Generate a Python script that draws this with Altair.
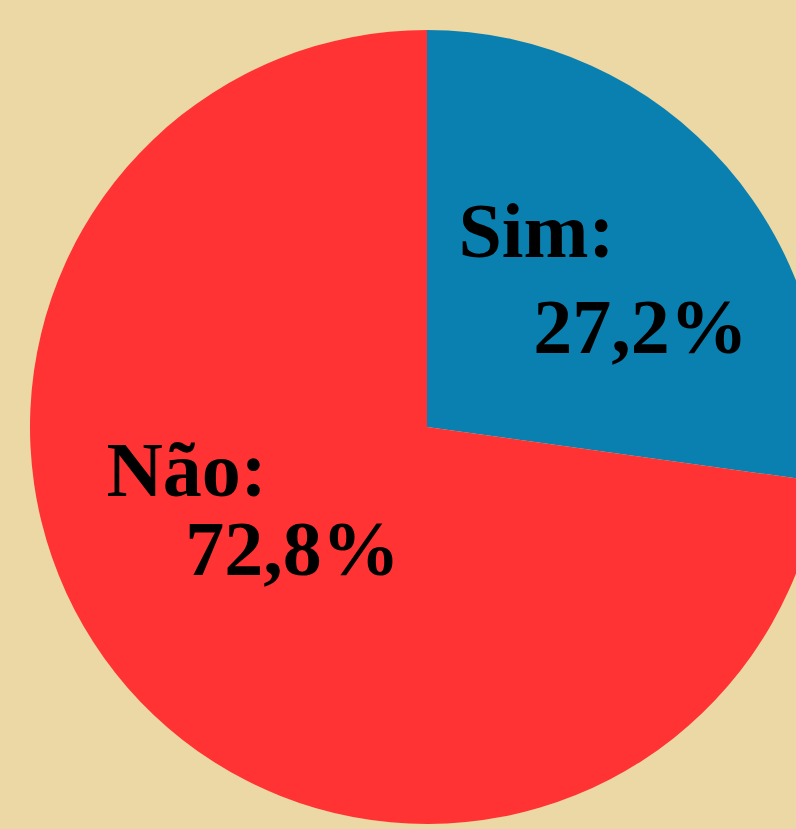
import altair as alt
import pandas as pd

# ---- data ----
categories = ["Sim", "Não"]
values = [27.2, 72.8]
pct_labels = ["27,2%", "72,8%"]
colors = ["#0A80B1", "#FF3333"]

df = pd.DataFrame({"cat": categories, "value": values, "pct": pct_labels})
total = sum(values)

# ---- layout / style ----
W, H = 796, 829
CX, CY, R = 427, 427, 397
LABEL_R = 210
BG = "#ECD8A4"
FONT = "Liberation Serif"
FSIZE = 78

theta_scale = alt.Scale(domain=[0, total])

base = (
    alt.Chart(df)
    .transform_window(idx="row_number()")
    .transform_window(cum="sum(value)", sort=[alt.SortField("idx")])
    .transform_calculate(mid="datum.cum - datum.value / 2", name="datum.cat + ':'")
)

arc = base.mark_arc(outerRadius=R).encode(
    theta=alt.Theta("value:Q", stack=True, scale=theta_scale),
    color=alt.Color("cat:N", scale=alt.Scale(domain=categories, range=colors), legend=None),
    order=alt.Order("idx:Q"),
    x=alt.value(CX),
    y=alt.value(CY),
)


def label(cat, field, dx, dy):
    return (
        base.transform_filter(alt.datum.cat == cat)
        .mark_text(
            radius=LABEL_R,
            dx=dx,
            dy=dy,
            align="center",
            baseline="alphabetic",
            font=FONT,
            fontWeight="bold",
            fontSize=FSIZE,
            color="black",
        )
        .encode(
            theta=alt.Theta("mid:Q", stack=None, scale=theta_scale),
            text=alt.Text(f"{field}:N"),
            x=alt.value(CX),
            y=alt.value(CY),
        )
    )


layers = [
    arc,
    label("Sim", "name", -49, -32),
    label("Sim", "pct", 55, 64),
    label("Não", "name", -82, -69),
    label("Não", "pct", 24, 10),
]

chart = (
    alt.layer(*layers)
    .properties(width=W, height=H, padding=0, autosize="none", background=BG)
    .configure_view(strokeWidth=0)
)

chart.save("out.html", embed_options={"renderer": "svg", "actions": False})
